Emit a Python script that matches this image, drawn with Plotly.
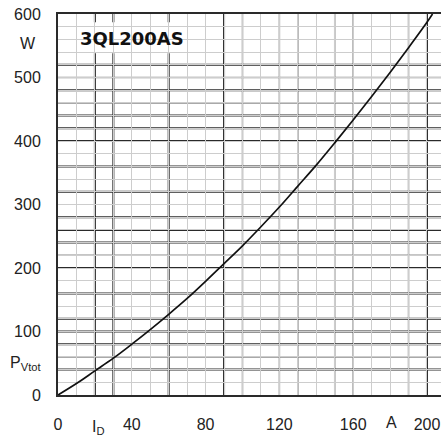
import plotly.graph_objects as go

# Data (forward current vs. total power dissipation)
current_a = [0, 10, 20, 30, 40, 50, 60, 70, 80, 90, 100, 110, 120, 130, 140, 150, 160, 170, 180, 190, 200, 203]
power_w = [0, 18, 38, 58, 80, 103, 127, 152, 179, 207, 235, 265, 296, 329, 362, 397, 433, 470, 508, 547, 587, 600]

x_ticks = [0, 40, 80, 120, 160, 200]
y_ticks = [0, 100, 200, 300, 400, 500, 600]

# Grid emphasis (as it appears in the scanned datasheet)
dark_x = [20, 30, 60, 90, 200]
medium_x = [100, 120, 130, 150, 160, 190]
dark_y = [40, 80, 100, 120, 160, 200, 240, 260, 280, 320, 360, 400, 420, 440, 480, 520]
medium_y = [60, 220, 460, 500]

FONT = "Liberation Sans, Arial, sans-serif"
DARK = "#2a2a2a"
MED = "#8c8c8c"
LIGHT = "#cdcdcd"

fig = go.Figure()
fig.add_trace(go.Scatter(x=current_a, y=power_w, mode="lines",
                         line=dict(color="#111111", width=1.7, shape="spline"),
                         showlegend=False, hoverinfo="skip"))

shapes = []
for v in medium_x:
    shapes.append(dict(type="line", xref="x", yref="paper", x0=v, x1=v, y0=0, y1=1,
                       line=dict(color=MED, width=1.5), layer="below"))
for v in dark_x:
    shapes.append(dict(type="line", xref="x", yref="paper", x0=v, x1=v, y0=0, y1=1,
                       line=dict(color=DARK, width=2), layer="below"))
for v in medium_y:
    shapes.append(dict(type="line", xref="paper", yref="y", x0=0, x1=1, y0=v, y1=v,
                       line=dict(color=MED, width=1.5), layer="below"))
for v in dark_y:
    shapes.append(dict(type="line", xref="paper", yref="y", x0=0, x1=1, y0=v, y1=v,
                       line=dict(color=DARK, width=2), layer="below"))
# white label box
shapes.append(dict(type="rect", xref="x", yref="y", x0=1.6, x1=73, y0=538, y1=587,
                   fillcolor="white", line=dict(width=0), layer="below"))

fig.update_layout(
    width=441, height=441,
    margin=dict(l=58, r=0, t=14, b=46),
    paper_bgcolor="white", plot_bgcolor="white",
    font=dict(family=FONT, size=16, color="#222222"),
    shapes=shapes,
    xaxis=dict(range=[0, 207.6], tickvals=x_ticks, ticks="", ticklabelstandoff=14,
               showgrid=True, gridcolor=LIGHT, gridwidth=1,
               minor=dict(dtick=10, showgrid=True, gridcolor=LIGHT, gridwidth=1),
               showline=True, linecolor=DARK, linewidth=2, mirror=True,
               zeroline=False, fixedrange=True),
    yaxis=dict(range=[0, 600], tickvals=y_ticks, ticks="", ticklabelstandoff=12,
               showgrid=True, gridcolor=LIGHT, gridwidth=1,
               minor=dict(dtick=20, showgrid=True, gridcolor=LIGHT, gridwidth=1),
               showline=True, linecolor=DARK, linewidth=2, mirror=False,
               zeroline=False, fixedrange=True),
    annotations=[
        dict(text="<b>3QL200AS</b>", xref="x", yref="y", x=40, y=562, showarrow=False,
             font=dict(family="DejaVu Sans, sans-serif", size=18, color="#111111")),
        dict(text="W", xref="paper", yref="y", x=-0.078, y=554, showarrow=False,
             xanchor="center", yanchor="middle"),
        dict(text="P<sub>Vtot</sub>", xref="paper", yref="y", x=-0.039, y=50, showarrow=False,
             xanchor="right", yanchor="middle"),
        dict(text="I<sub>D</sub>", xref="x", yref="paper", x=22, y=-0.085, showarrow=False,
             xanchor="center", yanchor="middle"),
        dict(text="A", xref="x", yref="paper", x=181, y=-0.071, showarrow=False,
             xanchor="center", yanchor="middle"),
    ],
)

fig.write_html("out.html")
